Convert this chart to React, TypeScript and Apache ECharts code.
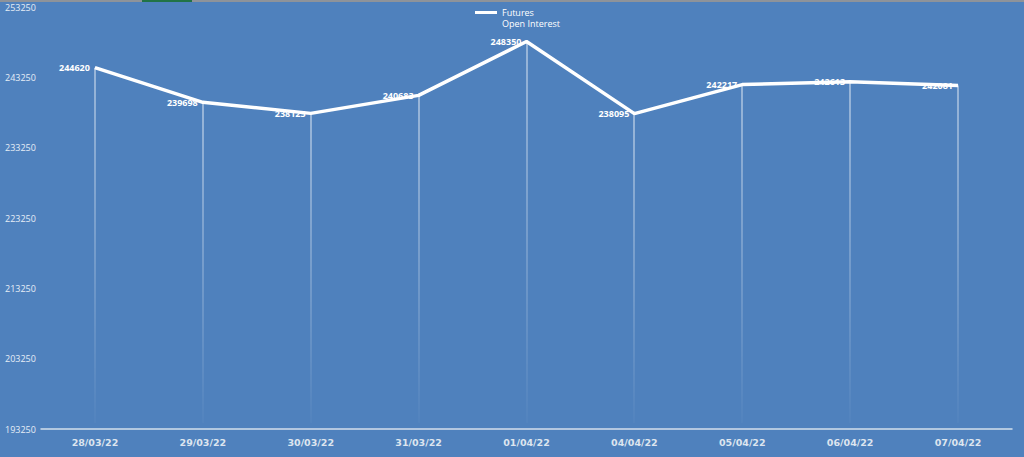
import React, { useEffect, useRef } from "react";
import * as echarts from "echarts";

const categories = ["28/03/22", "29/03/22", "30/03/22", "31/03/22", "01/04/22", "04/04/22", "05/04/22", "06/04/22", "07/04/22"];
const openInterest = [244620, 239698, 238125, 240683, 248350, 238095, 242217, 242613, 242081];
const seriesName = "Futures\nOpen Interest";
const yMin = 193250;
const yMax = 253250;
const yInterval = 10000;

export default function App() {
  const ref = useRef<HTMLDivElement>(null);
  useEffect(() => {
    document.body.style.margin = "0";
    const chart = echarts.init(ref.current!, null, { renderer: "svg" });
    const grad = new echarts.graphic.LinearGradient(0, 0, 0, 1, [
      { offset: 0, color: "rgba(255,255,255,0.85)" },
      { offset: 1, color: "rgba(255,255,255,0.04)" },
    ]);
    chart.setOption({
      animation: false,
      backgroundColor: "#4f81bd",
      graphic: [
        { type: "rect", left: 0, top: 0, shape: { width: 1024, height: 2 }, style: { fill: "#8e939a" }, silent: true },
        { type: "rect", left: 142, top: 0, shape: { width: 50, height: 2 }, style: { fill: "#217346" }, silent: true },
      ],
      legend: {
        data: [seriesName],
        left: 470,
        top: -9,
        itemWidth: 22,
        itemHeight: 3,
        itemGap: 5,
        icon: "rect",
        formatter: (name: string) => " \n" + name,
        textStyle: { color: "#ffffff", fontSize: 9, fontFamily: "Open Sans", lineHeight: 11 },
      },
      grid: { left: 41, right: 12, top: 7, bottom: 28 },
      xAxis: {
        type: "category",
        data: categories,
        boundaryGap: true,
        axisLine: { lineStyle: { color: "#d4dfec", width: 1.5 } },
        axisTick: { show: false },
        axisLabel: { color: "#dde5ef", fontSize: 9.5, fontWeight: "bold", fontFamily: "DejaVu Sans", margin: 8 },
        splitLine: { show: false },
      },
      yAxis: {
        type: "value",
        min: yMin,
        max: yMax,
        interval: yInterval,
        axisLine: { show: false },
        axisTick: { show: false },
        splitLine: { show: false },
        axisLabel: {
          color: "#e6edf6",
          fontSize: 9,
          fontFamily: "Open Sans",
          align: "left",
          margin: 36,
          formatter: (v: number) => String(v),
        },
      },
      series: [
        {
          type: "custom",
          name: "drop",
          z: 1,
          silent: true,
          data: openInterest.map((v, i) => [i, v]),
          renderItem: (params: any, api: any) => {
            const top = api.coord([api.value(0), api.value(1)]);
            const bottom = api.coord([api.value(0), yMin]);
            return {
              type: "rect",
              shape: { x: Math.round(top[0]) - 0.5, y: top[1], width: 1, height: bottom[1] - top[1] - 6 },
              style: { fill: grad },
            };
          },
        },
        {
          type: "line",
          name: seriesName,
          z: 3,
          data: openInterest,
          showSymbol: true,
          symbol: "circle",
          symbolSize: 0.1,
          lineStyle: { color: "#ffffff", width: 3.5 },
          itemStyle: { color: "#ffffff" },
          label: {
            show: true,
            position: "left",
            distance: 5,
            color: "#ffffff",
            fontSize: 9,
            fontWeight: "bold",
            fontFamily: "Open Sans",
          },
        },
      ],
    });
    return () => chart.dispose();
  }, []);
  return <div ref={ref} style={{ position: "absolute", left: 0, top: 0, width: 1024, height: 457 }} />;
}
